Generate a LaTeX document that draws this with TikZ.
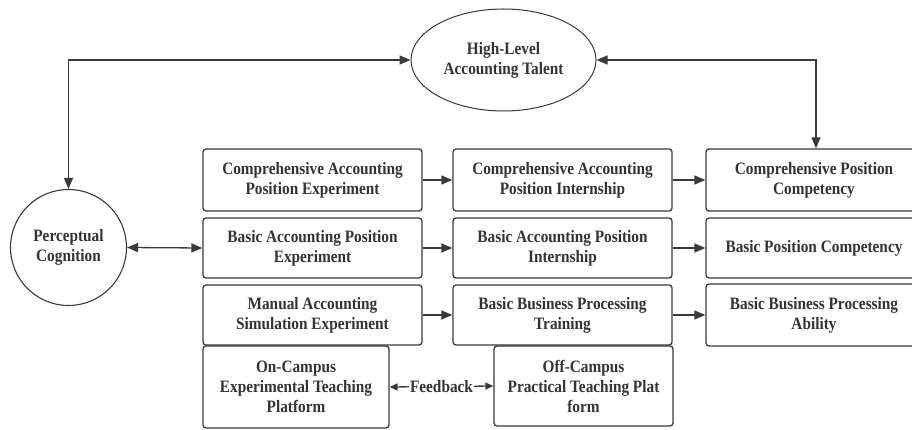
\documentclass[tikz,border=0pt]{standalone}
\usepackage{fontspec}
\setmainfont[FakeStretch=0.88]{Liberation Serif}
\usetikzlibrary{arrows.meta,shapes.geometric}
\definecolor{ink}{HTML}{3A3A3A}
\definecolor{txt}{HTML}{333333}
\tikzset{
  lbl/.style={font=\bfseries\fontsize{17.4}{20}\selectfont, text=txt, align=center},
  stagebox/.style={lbl, draw=ink, line width=1.3pt, rounded corners=3pt,
    rectangle, inner sep=0pt, minimum width=219pt, minimum height=61pt},
  flow/.style={draw=ink, line width=1.3pt, -{Triangle[length=11pt,width=9pt]}},
  twoway/.style={draw=ink, line width=1.3pt,
    {Triangle[length=11pt,width=9pt]}-{Triangle[length=11pt,width=9pt]}},
  smallway/.style={draw=ink, line width=1.3pt,
    {Triangle[length=8pt,width=7pt]}-{Triangle[length=8pt,width=7pt]}},
}
\begin{document}
\begin{tikzpicture}[x=1pt,y=-1pt]
\useasboundingbox (0,0) rectangle (912,430);
\fill[white] (0,0) rectangle (912,430);
\clip (0,0) rectangle (912,430);

% goal and starting point
\node[lbl, ellipse, draw=ink, line width=1pt, inner sep=0pt,
      minimum width=185pt, minimum height=102pt] (talent) at (503.5,60)
      {High-Level\\Accounting Talent};
\node[lbl, circle, draw=ink, line width=1.1pt, inner sep=0pt,
      minimum size=116pt] (percept) at (68.5,247.5) {Perceptual\\Cognition};

% experiment column
\node[stagebox, minimum height=62pt] (caexp) at (312.5,180) {Comprehensive Accounting\\Position Experiment};
\node[stagebox, minimum height=60pt] (baexp) at (312.5,248) {Basic Accounting Position\\Experiment};
\node[stagebox, minimum height=60pt] (maexp) at (312.5,315) {Manual Accounting\\Simulation Experiment};

% internship / training column
\node[stagebox, minimum height=62pt] (caint) at (562.5,180) {Comprehensive Accounting\\Position Internship};
\node[stagebox, minimum height=60pt] (baint) at (562.5,248) {Basic Accounting Position\\Internship};
\node[stagebox, minimum height=60pt] (bbtr) at (562.5,315) {Basic Business Processing\\Training};

% competency column
\node[stagebox, minimum width=216pt, minimum height=62pt] (ccomp) at (814,180) {Comprehensive Position\\Competency};
\node[stagebox, minimum width=216pt, minimum height=60pt] (bcomp) at (814,248) {Basic Position Competency};
\node[stagebox, minimum width=216pt, minimum height=62pt] (babil) at (814,315) {Basic Business Processing\\Ability};

% teaching platforms
\node[stagebox, minimum width=186pt, minimum height=82pt] (oncamp) at (296,387) {On-Campus\\Experimental Teaching\\Platform};
\node[stagebox, minimum width=179pt, minimum height=80pt] (offcamp) at (583.5,386) {Off-Campus\\Practical Teaching Plat\\form};

% connectors
\draw[twoway] (percept.north) |- (talent.west);
\draw[twoway] (talent.east) -| ([xshift=2pt]ccomp.north);
\draw[twoway] (percept.east) -- (baexp.west);

\draw[flow] (caexp.east) -- (caint.west);
\draw[flow] (baexp.east) -- (baint.west);
\draw[flow] (maexp.east) -- (bbtr.west);
\draw[flow] (caint.east) -- (ccomp.west);
\draw[flow] (baint.east) -- (bcomp.west);
\draw[flow] (bbtr.east) -- (babil.west);

\draw[smallway] (oncamp.east) -- node[lbl, fill=white, inner sep=1pt] (fb) {Feedback} (offcamp.west);
\end{tikzpicture}
\end{document}
